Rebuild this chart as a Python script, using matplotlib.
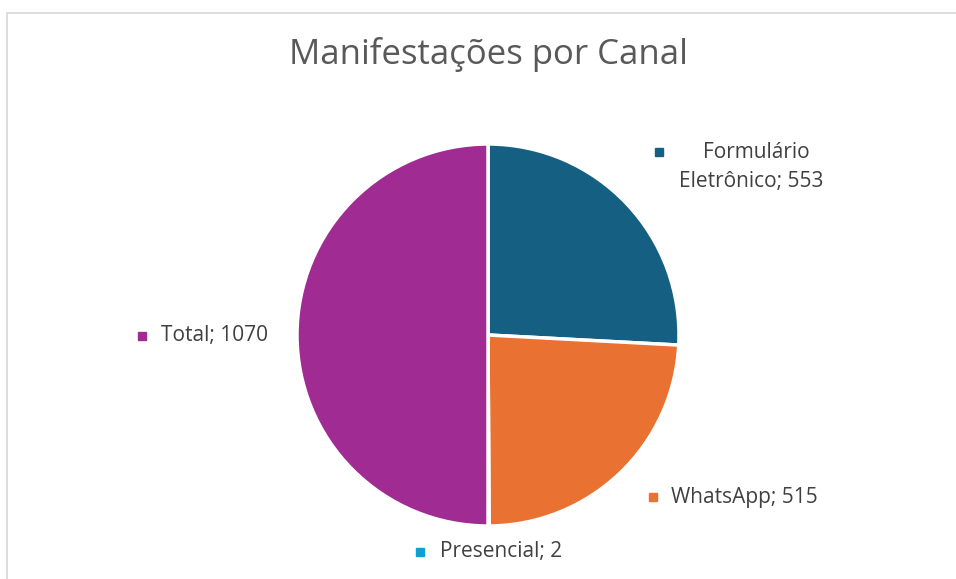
import matplotlib.pyplot as plt

categorias = ['Formulário Eletrônico', 'WhatsApp', 'Presencial', 'Total']
valores = [553, 515, 2, 1070]
cores = ['#156082', '#E97132', '#0F9ED5', '#A02B93']
rotulos = ['Formulário\nEletrônico; 553', 'WhatsApp; 515', 'Presencial; 2', 'Total; 1070']

W, H = 956, 579
fig = plt.figure(figsize=(W / 100, H / 100), dpi=100)
ax = fig.add_axes([0, 0, 1, 1])

def py(y):
    return H - y

ax.pie(valores, colors=cores, startangle=90, counterclock=False,
       center=(488, py(335)), radius=191,
       wedgeprops=dict(edgecolor='white', linewidth=2.5))
ax.set_aspect('auto')
ax.set_xlim(0, W)
ax.set_ylim(0, H)
ax.axis('off')

# chart border (only top/left visible)
ax.plot([7.5, 7.5, W + 20], [-20, py(12.5), py(12.5)], color='#d9d9d9', lw=1.3,
        clip_on=False)

ax.text(489, py(55), 'Manifestações por Canal', ha='center', va='center',
        fontsize=25, color='#595959', family='Open Sans')

fonte = dict(fontsize=15, color='#404040', family='Open Sans', va='center')
# label positions: (marker x, marker y, text x, alignment)
pos = [(659, 152, 756, 'center'), (653, 497, 671, 'left'),
       (420, 552, 440, 'left'), (142, 336, 161, 'left')]
for (mx, my, tx, al), lab, c in zip(pos, rotulos, cores):
    ax.plot(mx, py(my), marker='s', ms=6, color=c, ls='none')
    if '\n' in lab:
        l1, l2 = lab.split('\n')
        ax.text(tx, py(my), l1, ha='center', **fonte)
        ax.text(751, py(my + 30), l2, ha='center', **fonte)
    else:
        ax.text(tx, py(my), lab, ha=al, **fonte)

fig.savefig('out.png', dpi=100)
